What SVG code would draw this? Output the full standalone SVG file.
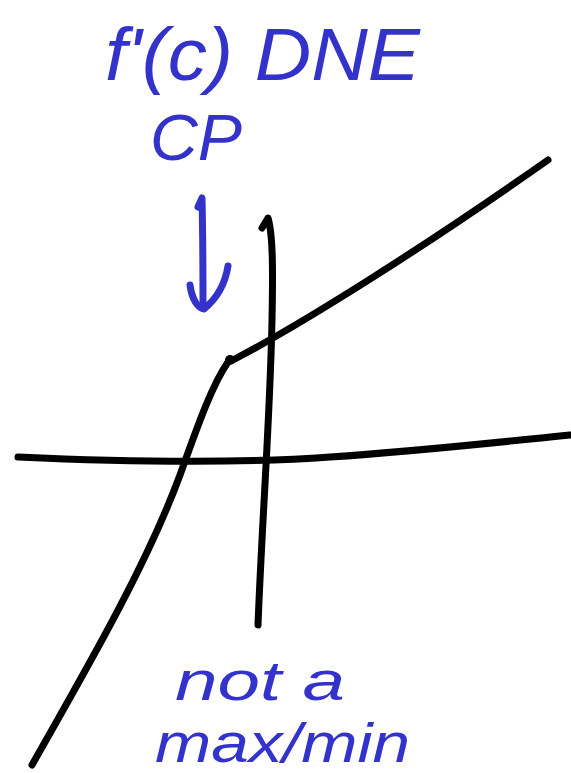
<svg xmlns="http://www.w3.org/2000/svg" width="571" height="773" viewBox="0 0 571 773">
<style>
.ink{fill:none;stroke:#000;stroke-width:7;stroke-linecap:round;stroke-linejoin:round}
.blue{fill:none;stroke:#3333CC;stroke-width:7;stroke-linecap:round;stroke-linejoin:round}
.t{fill:#3333CC;font-family:"Liberation Sans","DejaVu Sans",sans-serif;font-style:italic}
</style>
<rect width="571" height="773" fill="#fff"/>
<g id="axes">
<path class="ink" d="M18,457 C 150,463 260,462 330,457 C 420,451 500,442 570,435"/>
<path class="ink" d="M258,625 C 262,520 270,420 272,320 C 273,270 273,235 268,218 L 262,228"/>
</g>
<g id="function">
<path class="ink" d="M32,765 C 80,680 145,570 180,475 C 198,425 212,385 228,362"/>
<circle cx="230" cy="360" r="5" fill="#000"/>
<path class="ink" d="M233,360 C 300,325 420,250 548,160"/>
</g>
<g id="arrow">
<path class="blue" d="M198,207 L202,198 C 203,240 203,280 203,308"/>
<path class="blue" d="M190,285 C 192,300 198,308 204,309 C 215,300 225,285 228,266"/>
</g>
<g id="labels">
<text class="t" x="105" y="80" font-size="74" textLength="315" lengthAdjust="spacingAndGlyphs">f'(c) DNE</text>
<text class="t" x="150" y="160" font-size="64" textLength="92" lengthAdjust="spacingAndGlyphs">CP</text>
<text class="t" x="175" y="700" font-size="56" textLength="170" lengthAdjust="spacingAndGlyphs">not a</text>
<text class="t" x="155" y="762" font-size="56" textLength="255" lengthAdjust="spacingAndGlyphs">max/min</text>
</g>
</svg>
